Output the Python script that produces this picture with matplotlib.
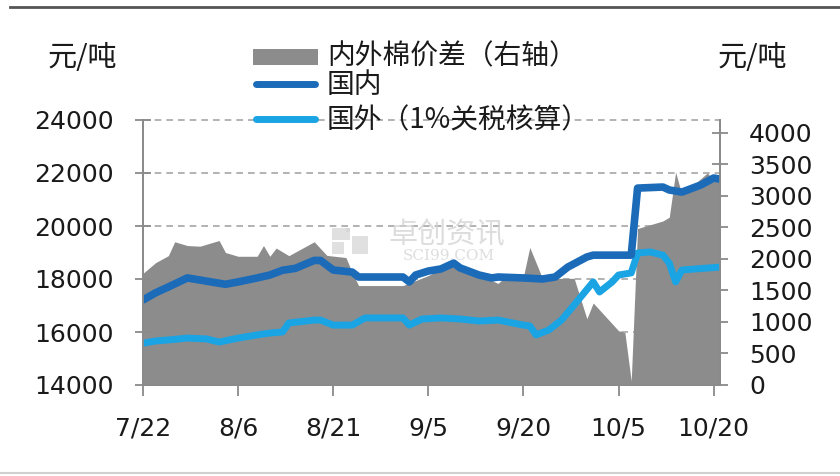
import numpy as np
import pandas as pd
import matplotlib
matplotlib.use("Agg")
import matplotlib.pyplot as plt
from matplotlib.lines import Line2D
from matplotlib.patches import Rectangle
from matplotlib.transforms import blended_transform_factory

plt.rcParams['font.family'] = ['DejaVu Sans', 'Noto Sans CJK SC']
CJK = ['Noto Sans CJK SC', 'DejaVu Sans']

YEAR = "2010-"

# domestic cotton price (left axis, yuan/t)
dom_dates = ["07-22", "07-24", "07-26", "07-29", "08-01", "08-04", "08-06", "08-09",
             "08-11", "08-13", "08-15", "08-18", "08-19", "08-21", "08-24", "08-25",
             "09-01", "09-02", "09-03", "09-05", "09-07", "09-09", "09-10", "09-13",
             "09-15", "09-16", "09-20", "09-23", "09-25", "09-27", "09-30", "10-01",
             "10-07", "10-08", "10-12", "10-13", "10-15", "10-18", "10-20", "10-21"]
dom_vals = [17210, 17480, 17700, 18040, 17920, 17800, 17890, 18040,
            18150, 18330, 18400, 18700, 18700, 18340, 18260, 18075,
            18075, 17890, 18150, 18300, 18380, 18600, 18420, 18150,
            18040, 18075, 18040, 18000, 18075, 18450, 18830, 18900,
            18900, 21430, 21470, 21360, 21280, 21550, 21810, 21770]

# foreign cotton price, 1% tariff (left axis)
for_dates = ["07-22", "07-24", "07-26", "07-29", "08-01", "08-03", "08-06", "08-09",
             "08-11", "08-13", "08-14", "08-18", "08-19", "08-21", "08-24", "08-26",
             "09-01", "09-02", "09-04", "09-07", "09-10", "09-13", "09-16", "09-20",
             "09-21", "09-22", "09-24", "09-26", "09-28", "10-01", "10-02", "10-04",
             "10-05", "10-07", "10-08", "10-10", "10-12", "10-13", "10-14", "10-15",
             "10-21"]
for_vals = [15580, 15660, 15700, 15770, 15740, 15620, 15770, 15890,
            15960, 16000, 16340, 16450, 16450, 16260, 16260, 16530,
            16530, 16260, 16490, 16530, 16490, 16415, 16450, 16260,
            16230, 15890, 16075, 16450, 17020, 17890, 17510, 17890,
            18150, 18230, 18980, 19020, 18900, 18600, 17890, 18340,
            18450]

# spread (right axis)
gap_dates = ["07-22", "07-24", "07-26", "07-27", "07-29", "07-31", "08-03", "08-04",
             "08-06", "08-09", "08-10", "08-11", "08-12", "08-14", "08-18", "08-20",
             "08-23", "08-24", "08-25", "09-01", "09-03", "09-05", "09-09", "09-10",
             "09-14", "09-16", "09-17", "09-20", "09-21", "09-23", "09-28", "09-30",
             "10-01", "10-05", "10-06", "10-07", "10-08", "10-12", "10-13", "10-14",
             "10-15", "10-19", "10-20", "10-21"]
gap_vals = [1770, 1940, 2050, 2270, 2210, 2200, 2290, 2100,
            2040, 2040, 2210, 2040, 2170, 2050, 2270, 2054,
            2020, 1783, 1576, 1576, 1655, 1735, 1940, 1847,
            1700, 1610, 1700, 1720, 2180, 1690, 1690, 1050,
            1300, 860, 830, 64, 2480, 2600, 2660, 3375,
            3010, 3360, 3250, 3250]

xtick_dates = ["07-22", "08-06", "08-21", "09-05", "09-20", "10-05", "10-20"]
xtick_labels = ["7/22", "8/6", "8/21", "9/5", "9/20", "10/5", "10/20"]
left_ticks = [14000, 16000, 18000, 20000, 22000, 24000]
right_ticks = [0, 500, 1000, 1500, 2000, 2500, 3000, 3500, 4000]

legend_labels = ["内外棉价差（右轴）", "国内", "国外（1%关税核算）"]

def to_dt(lst):
    return pd.to_datetime([YEAR + s for s in lst])

GRAY = '#8c8c8c'
DARK = '#1b6bb9'
LIGHT = '#1ba4e3'
AXC = '#8a8a8a'

W, H = 840, 476
fig = plt.figure(figsize=(W / 100, H / 100), dpi=100)
ax = fig.add_axes([143 / W, 1 - 385 / H, (720 - 143) / W, 265 / H])
ax2 = ax.twinx()

# area on right axis, drawn underneath
ax2.fill_between(to_dt(gap_dates), gap_vals, 0, color=GRAY, linewidth=0, zorder=2)
ax2.set_ylim(0, 4200)
ax2.set_yticks(right_ticks)

# dashed grid at the left ticks, drawn in ax2 so it stays behind the area
tr = blended_transform_factory(ax2.transAxes, ax.transData)
ax.set_ylim(14000, 24000)
for t in left_ticks[1:]:
    ax2.plot([0, 1], [t, t], transform=tr, color='#a6a6a6', lw=1.2,
             dashes=(4, 3), zorder=1, clip_on=False)

ax.set_zorder(ax2.get_zorder() + 1)
ax.patch.set_visible(False)

ax.plot(to_dt(for_dates), for_vals, color=LIGHT, lw=5, solid_joinstyle='round',
        solid_capstyle='round')
ax.plot(to_dt(dom_dates), dom_vals, color=DARK, lw=5.5, solid_joinstyle='round',
        solid_capstyle='round')

ax.set_xlim(pd.Timestamp(YEAR + "07-22"), pd.Timestamp(YEAR + "10-21"))
ax.set_xticks(to_dt(xtick_dates))
ax.set_xticklabels(xtick_labels)
ax.set_yticks(left_ticks)

for a in (ax, ax2):
    for s in a.spines.values():
        s.set_color(AXC)
        s.set_linewidth(1.3)
    a.spines['top'].set_visible(False)

ax.tick_params(axis='y', direction='inout', length=12, width=1.3, color=AXC,
               labelsize=18, pad=15, labelcolor='#1a1a1a')
ax2.tick_params(axis='y', direction='inout', length=12, width=1.3, color=AXC,
                labelsize=18, pad=15, labelcolor='#1a1a1a')
ax.tick_params(axis='x', direction='out', length=8, width=1.3, color=AXC,
               labelsize=18, pad=15, labelcolor='#1a1a1a')

# unit labels
fig.text(82 / W, 1 - 58 / H, "元/吨", family=CJK, fontsize=21, ha='center',
         va='center', color='#1a1a1a')
fig.text(752 / W, 1 - 58 / H, "元/吨", family=CJK, fontsize=21, ha='center',
         va='center', color='#1a1a1a')

# legend drawn by hand to match the tight row spacing
rows = [55, 84, 119]
fig.add_artist(Rectangle((253 / W, 1 - 65 / H), 65 / W, 16 / H,
                         transform=fig.transFigure, color=GRAY, lw=0))
for y, c in zip(rows[1:], [DARK, LIGHT]):
    fig.add_artist(Line2D([256 / W, 315 / W], [1 - y / H, 1 - y / H],
                          transform=fig.transFigure, color=c, lw=5,
                          solid_capstyle='round'))
for y, lab in zip(rows, legend_labels):
    fig.text(327 / W, 1 - (y + 1) / H, lab, family=CJK, fontsize=20,
             ha='left', va='center', color='#1a1a1a')

# watermark (logo blocks + text)
for (bx, by, bw, bh) in [(332, 228, 18, 12), (332, 242, 12, 12),
                         (352, 236, 16, 18), (346, 228, 4, 4)]:
    fig.add_artist(Rectangle((bx / W, 1 - (by + bh) / H), bw / W, bh / H,
                             transform=fig.transFigure, color='#d4d4d4',
                             alpha=0.7, lw=0, zorder=10))
fig.text(447 / W, 1 - 235 / H, "卓创资讯", family=CJK, fontsize=21, ha='center',
         va='center', color='#d2d2d2', alpha=0.75, zorder=10)
fig.text(449 / W, 1 - 256 / H, "SCI99.COM", family='DejaVu Serif', fontsize=11,
         ha='center', va='center', color='#d2d2d2', alpha=0.75, zorder=10)

# frame lines of the original picture
fig.add_artist(Line2D([10 / W, 1], [1 - 7 / H, 1 - 7 / H], transform=fig.transFigure,
                      color='#555555', lw=2))
fig.add_artist(Line2D([0, 1], [1 - 473 / H, 1 - 473 / H], transform=fig.transFigure,
                      color='#d0d0d0', lw=1.5))

fig.savefig("out.png", dpi=100)
